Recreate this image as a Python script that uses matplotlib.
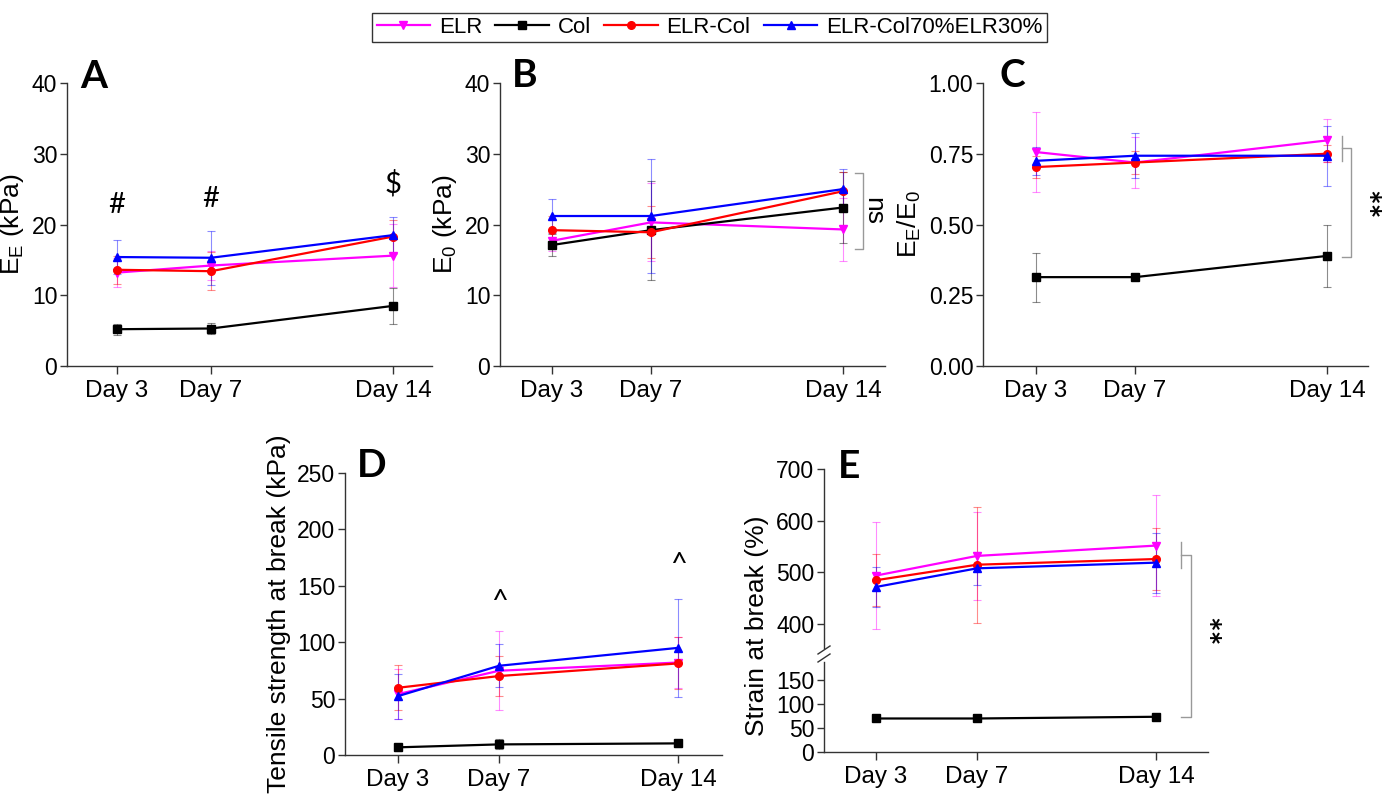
import matplotlib
matplotlib.use("Agg")
import matplotlib.pyplot as plt
from matplotlib.lines import Line2D

plt.rcParams['font.family'] = ['Liberation Sans', 'DejaVu Sans']
plt.rcParams['mathtext.fontset'] = 'custom'
plt.rcParams['mathtext.rm'] = 'Liberation Sans'
plt.rcParams['mathtext.it'] = 'Liberation Sans'

# datos
dias = ["Day 3", "Day 7", "Day 14"]
x_arriba = [3, 7, 14.75]
x_abajo = [3, 7, 14.1]
grupos = ["ELR", "Col", "ELR-Col", "ELR-Col70%ELR30%"]
colores = {"ELR": "#ff00ff", "Col": "#000000", "ELR-Col": "#ff0000", "ELR-Col70%ELR30%": "#0000ff"}
marcas = {"ELR": "v", "Col": "s", "ELR-Col": "o", "ELR-Col70%ELR30%": "^"}

# A: E_E (kPa)
ee_media = {"ELR": [13.2, 14.2, 15.6], "Col": [5.2, 5.3, 8.5],
            "ELR-Col": [13.6, 13.4, 18.3], "ELR-Col70%ELR30%": [15.4, 15.3, 18.5]}
ee_err = {"ELR": [2.1, 2.0, 4.5], "Col": [0.8, 0.8, 2.5],
          "ELR-Col": [2.0, 2.7, 2.4], "ELR-Col70%ELR30%": [2.4, 3.8, 2.5]}

# B: E_0 (kPa)
e0_media = {"ELR": [17.7, 20.3, 19.3], "Col": [17.1, 19.2, 22.4],
            "ELR-Col": [19.2, 18.9, 24.7], "ELR-Col70%ELR30%": [21.2, 21.2, 25.0]}
e0_err = {"ELR": [1.5, 5.5, 4.5], "Col": [1.5, 7.0, 5.0],
          "ELR-Col": [2.0, 3.7, 2.7], "ELR-Col70%ELR30%": [2.4, 8.0, 2.8]}

# C: E_E/E_0
ratio_media = {"ELR": [0.756, 0.719, 0.797], "Col": [0.314, 0.314, 0.389],
               "ELR-Col": [0.703, 0.719, 0.750], "ELR-Col70%ELR30%": [0.725, 0.743, 0.743]}
ratio_err = {"ELR": [0.14, 0.09, 0.077], "Col": [0.087, 0.005, 0.11],
             "ELR-Col": [0.04, 0.04, 0.03], "ELR-Col70%ELR30%": [0.05, 0.08, 0.106]}

# D: Tensile strength at break (kPa)
ts_media = {"ELR": [54.0, 74.7, 82.0], "Col": [6.8, 9.4, 10.3],
            "ELR-Col": [59.6, 70.0, 81.2], "ELR-Col70%ELR30%": [52.2, 79.1, 95.0]}
ts_err = {"ELR": [22.0, 35.0, 22.5], "Col": [3.0, 4.5, 3.0],
          "ELR-Col": [20.0, 17.7, 23.0], "ELR-Col70%ELR30%": [20.0, 19.0, 43.6]}

# E: Strain at break (%)
sb_media = {"ELR": [494, 532, 552], "Col": [70, 70, 73.6],
            "ELR-Col": [485, 515, 526], "ELR-Col70%ELR30%": [472, 508, 519]}
sb_err = {"ELR": [103, 85, 97], "Col": [3, 3, 3],
          "ELR-Col": [50, 112, 60], "ELR-Col70%ELR30%": [38, 32, 58]}

W, H = 1386, 796
fig = plt.figure(figsize=(W / 100, H / 100), dpi=100)


def caja(izq, arriba, der, abajo):
    # convierte pixeles de la imagen a fracciones de figura
    return [izq / W, 1 - abajo / H, (der - izq) / W, (abajo - arriba) / H]


def estilo(ax, abajo=True):
    ax.spines['top'].set_visible(False)
    ax.spines['right'].set_visible(False)
    for s in ['left', 'bottom']:
        ax.spines[s].set_color('#333333')
        ax.spines[s].set_linewidth(1.0)
    ax.tick_params(axis='y', direction='out', length=5, width=1, color='#333333', labelsize=16.5, pad=2)
    ax.tick_params(axis='x', direction='out', length=6, width=1, color='#333333', labelsize=17.5, pad=4)
    if not abajo:
        ax.spines['bottom'].set_visible(False)
        ax.tick_params(axis='x', bottom=False, labelbottom=False)


def dibujar(ax, xs, medias, errores, nombres=None):
    lineas = []
    for g in grupos:
        if nombres is not None and g not in nombres:
            continue
        ax.errorbar(xs, medias[g], yerr=errores[g], fmt='none', ecolor=colores[g],
                    elinewidth=0.8, capsize=3, capthick=0.8, alpha=0.45, clip_on=False)
    for g in grupos:
        if nombres is not None and g not in nombres:
            continue
        l, = ax.plot(xs, medias[g], color=colores[g], marker=marcas[g], markersize=5.5,
                     linewidth=1.6, label=g, clip_on=False, zorder=3)
        lineas.append(l)
    return lineas


def letra(ax, txt, x, y):
    ax.text(x, y, txt, transform=ax.transAxes, fontsize=28, fontweight='bold',
            family=['Lato', 'DejaVu Sans'], va='baseline', ha='left')


def corchete(ax, x, y0, y1, ancho):
    ax.plot([x - ancho, x, x, x - ancho], [y0, y0, y1, y1], color='#999999',
            linewidth=1.0, clip_on=False)


# ---------- A ----------
axA = fig.add_axes(caja(67, 83, 432, 366))
lineas = dibujar(axA, x_arriba, ee_media, ee_err)
axA.set_ylim(0, 40)
axA.set_yticks([0, 10, 20, 30, 40])
axA.set_xlim(0.87, 16.4)
axA.set_xticks(x_arriba)
axA.set_xticklabels(dias)
axA.set_ylabel(r'E$_\mathregular{E}$ (kPa)', fontsize=19, labelpad=4)
estilo(axA)
letra(axA, "A", 0.036, 0.982)
for xx, yy, t in [(x_arriba[0], 22.8, "#"), (x_arriba[1], 23.6, "#"), (x_arriba[2], 25.8, "$")]:
    axA.text(xx, yy, t, fontsize=21, ha='center', va='center', family=['Lato', 'DejaVu Sans'])

# ---------- B ----------
axB = fig.add_axes(caja(500, 83, 885, 366))
dibujar(axB, x_arriba, e0_media, e0_err)
axB.set_ylim(0, 40)
axB.set_yticks([0, 10, 20, 30, 40])
axB.set_xlim(0.9, 16.45)
axB.set_xticks(x_arriba)
axB.set_xticklabels(dias)
axB.set_ylabel(r'E$_\mathregular{0}$ (kPa)', fontsize=19, labelpad=4)
estilo(axB)
letra(axB, "B", 0.031, 0.986)
corchete(axB, 15.57, 16.6, 27.3, 0.32)
axB.text(15.97, 21.9, "ns", rotation=-90, fontsize=19, ha='center', va='center')

# ---------- C ----------
axC = fig.add_axes(caja(983, 83, 1368, 366))
dibujar(axC, x_arriba, ratio_media, ratio_err)
axC.set_ylim(0, 1.0)
axC.set_yticks([0, 0.25, 0.5, 0.75, 1.0])
axC.set_yticklabels(["0.00", "0.25", "0.50", "0.75", "1.00"])
axC.set_xlim(0.86, 16.41)
axC.set_xticks(x_arriba)
axC.set_xticklabels(dias)
axC.set_ylabel(r'E$_\mathregular{E}$/E$_\mathregular{0}$', fontsize=19, labelpad=4)
estilo(axC)
letra(axC, "C", 0.044, 0.986)
axC.plot([15.37, 15.37], [0.724, 0.813], color='#999999', linewidth=1.0, clip_on=False)
corchete(axC, 15.73, 0.385, 0.770, 0.36)
axC.text(16.2, 0.569, "**", rotation=-90, fontsize=25, fontweight='bold',
         ha='center', va='center', family=['Lato', 'DejaVu Sans'])

# ---------- D ----------
axD = fig.add_axes(caja(345, 473, 722, 755))
dibujar(axD, x_abajo, ts_media, ts_err)
axD.set_ylim(0, 250)
axD.set_yticks([0, 50, 100, 150, 200, 250])
axD.set_xlim(0.9, 15.83)
axD.set_xticks(x_abajo)
axD.set_xticklabels(dias)
axD.set_ylabel('Tensile strength at break (kPa)', fontsize=19, labelpad=4)
estilo(axD)
letra(axD, "D", 0.032, 0.986)
for xx, yy in [(x_abajo[1], 135.8), (x_abajo[2], 168)]:
    axD.text(xx, yy, "^", fontsize=21, ha='center', va='center', family=['Lato', 'DejaVu Sans'])

# ---------- E (eje partido) ----------
axE1 = fig.add_axes(caja(824, 469, 1208, 648))
axE2 = fig.add_axes(caja(824, 662, 1208, 752))
altos = ["ELR", "ELR-Col", "ELR-Col70%ELR30%"]
dibujar(axE1, x_abajo, sb_media, sb_err, altos)
dibujar(axE2, x_abajo, sb_media, sb_err, ["Col"])
axE1.set_ylim(354, 700)
axE1.set_yticks([400, 500, 600, 700])
axE2.set_ylim(0, 188)
axE2.set_yticks([0, 50, 100, 150])
for ax in (axE1, axE2):
    ax.set_xlim(0.94, 16.15)
    ax.set_xticks(x_abajo)
axE2.set_xticklabels(dias)
estilo(axE1, abajo=False)
estilo(axE2)
letra(axE1, "E", 0.036, 0.95)
fig.text(757 / W, 1 - 626 / H, 'Strain at break (%)', rotation=90, fontsize=19,
         ha='center', va='center')

# marcas de corte en el eje
for yy in (650, 658):
    fig.add_artist(Line2D([818 / W, 830 / W], [1 - (yy + 4) / H, 1 - (yy - 4) / H],
                          color='#333333', linewidth=1.0))

# corchete ** del panel E
inv = fig.transFigure.inverted()
p_arr = inv.transform(axE1.transData.transform((15.49, 533)))
p_aba = inv.transform(axE2.transData.transform((15.49, 73.5)))
dx = 10 / W
fig.add_artist(Line2D([p_arr[0] - dx, p_arr[0], p_aba[0], p_aba[0] - dx],
                      [p_arr[1], p_arr[1], p_aba[1], p_aba[1]], color='#999999', linewidth=1.0))
axE1.plot([15.09, 15.09], [508, 559], color='#999999', linewidth=1.0, clip_on=False)
fig.text(1203 / W, 1 - 632 / H, "**", rotation=-90, fontsize=25, fontweight='bold',
         ha='center', va='center', family=['Lato', 'DejaVu Sans'])

# leyenda
leg = fig.legend(handles=lineas, labels=grupos, loc='center', bbox_to_anchor=(709.5 / W, 1 - 27.5 / H),
                 ncol=4, fontsize=16, frameon=True, fancybox=False, edgecolor='black',
                 handlelength=2.4, handletextpad=0.4, columnspacing=0.6, borderpad=0.2)
leg.get_frame().set_linewidth(1.0)

plt.savefig("out.png", dpi=100)
plt.close()
